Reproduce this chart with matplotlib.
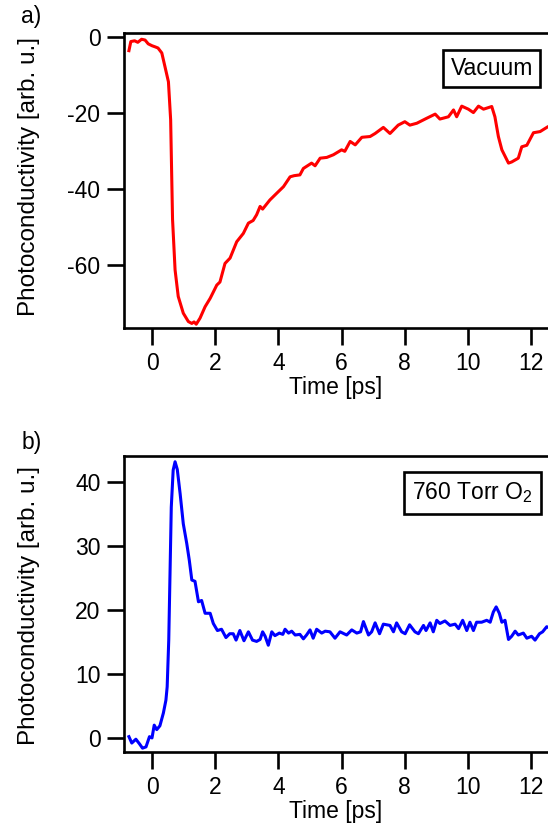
import matplotlib
matplotlib.use("Agg")
import matplotlib.pyplot as plt

plt.rcParams['font.family'] = ['Liberation Sans', 'DejaVu Sans']
plt.rcParams['mathtext.fontset'] = 'custom'
plt.rcParams['mathtext.rm'] = 'Liberation Sans'
plt.rcParams['mathtext.it'] = 'Liberation Sans:italic'
plt.rcParams['axes.unicode_minus'] = False

# ---- data: vacuum (panel a) ----
t_vac = [-0.73, -0.67, -0.55, -0.45, -0.33, -0.22, -0.12, 0.0, 0.10, 0.19, 0.31, 0.41,
         0.52, 0.59, 0.62, 0.65, 0.73, 0.83, 0.99, 1.15, 1.26, 1.33, 1.40, 1.52, 1.68,
         1.84, 2.05, 2.15, 2.31, 2.47, 2.68, 2.89, 3.05, 3.20, 3.31, 3.42, 3.50, 3.73,
         3.95, 4.16, 4.37, 4.50, 4.68, 4.79, 5.05, 5.16, 5.32, 5.53, 5.74, 6.00, 6.10,
         6.27, 6.43, 6.64, 6.90, 7.06, 7.32, 7.53, 7.79, 8.00, 8.16, 8.38, 8.69, 8.96,
         9.11, 9.38, 9.54, 9.64, 9.80, 10.01, 10.17, 10.33, 10.49, 10.75, 10.85, 10.96,
         11.07, 11.28, 11.38, 11.59, 11.70, 11.86, 12.07, 12.28, 12.53, 12.70]
y_vac = [-3.6, -1.2, -1.0, -1.4, -0.6, -0.8, -1.8, -2.3, -2.6, -2.9, -4.2, -7.8,
         -11.8, -21.8, -35.0, -48.0, -61.3, -68.3, -72.7, -74.9, -75.4, -75.0, -75.6, -74.0, -71.0,
         -68.8, -65.3, -64.5, -59.6, -58.2, -53.9, -51.7, -49.0, -48.3, -46.8, -44.6, -45.3, -42.9,
         -41.1, -39.4, -36.8, -36.5, -36.3, -34.6, -33.2, -33.9, -31.9, -31.7, -31.0, -29.7, -30.1,
         -27.5, -28.4, -26.4, -26.2, -25.4, -23.8, -25.4, -23.2, -22.3, -23.2, -22.7, -21.4, -20.3,
         -21.6, -21.0, -19.2, -21.0, -18.2, -19.0, -19.9, -18.2, -19.0, -18.3, -21.0, -26.2,
         -29.7, -33.2, -32.9, -31.9, -28.9, -28.5, -25.2, -24.9, -23.6, -23.4]

# ---- data: 760 Torr O2 (panel b) ----
t_o2 = [-0.73, -0.64, -0.51, -0.40, -0.30, -0.19, -0.08, 0.0, 0.07, 0.15, 0.25, 0.36,
        0.44, 0.48, 0.53, 0.57, 0.61, 0.67, 0.73, 0.80, 0.89, 0.99, 1.10, 1.18, 1.26,
        1.36, 1.47, 1.57, 1.68, 1.84, 1.94, 2.07, 2.20, 2.34, 2.46, 2.57, 2.66, 2.78,
        2.91, 3.05, 3.18, 3.31, 3.42, 3.50, 3.58, 3.68, 3.79, 3.89, 4.03, 4.14, 4.21,
        4.32, 4.42, 4.53, 4.68, 4.79, 4.89, 5.00, 5.10, 5.21, 5.37, 5.48, 5.63, 5.79,
        5.95, 6.16, 6.32, 6.48, 6.60, 6.69, 6.85, 6.95, 7.06, 7.20, 7.32, 7.53, 7.64,
        7.74, 7.90, 8.01, 8.15, 8.32, 8.43, 8.59, 8.67, 8.80, 8.90, 9.01, 9.11, 9.27,
        9.43, 9.59, 9.70, 9.83, 9.96, 10.06, 10.17, 10.27, 10.43, 10.59, 10.70, 10.80,
        10.89, 10.99, 11.07, 11.17, 11.28, 11.38, 11.49, 11.59, 11.75, 11.86, 12.01,
        12.12, 12.26, 12.36, 12.49, 12.65]
y_o2 = [0.2, -0.8, -0.2, -0.9, -1.6, -1.4, 0.2, 0.0, 2.0, 1.3, 1.9, 3.9,
        5.9, 8.0, 15.3, 25.7, 36.1, 41.9, 43.2, 42.0, 38.2, 33.5, 30.4, 27.8, 24.7,
        24.5, 21.3, 21.5, 19.5, 19.5, 17.9, 16.8, 17.0, 15.7, 16.3, 16.3, 15.3, 16.8,
        15.2, 16.6, 15.3, 15.1, 15.4, 16.6, 15.9, 14.5, 16.6, 16.0, 16.4, 16.2, 17.0,
        16.4, 16.7, 16.1, 16.2, 15.5, 16.1, 16.9, 15.6, 17.0, 16.4, 16.7, 16.6, 15.6,
        16.6, 16.1, 16.9, 16.4, 16.6, 18.2, 16.1, 16.6, 18.0, 16.3, 17.8, 17.6, 16.6,
        18.0, 16.6, 16.3, 17.7, 16.6, 16.3, 17.6, 16.8, 18.0, 16.6, 18.4, 17.9, 18.3,
        17.6, 17.8, 17.1, 18.4, 16.8, 18.1, 16.8, 18.1, 18.1, 18.4, 18.1, 19.7,
        20.5, 19.5, 18.1, 18.4, 15.4, 15.9, 16.7, 16.1, 16.4, 15.6, 15.9,
        15.3, 16.3, 16.6, 17.4, 17.0]

x_ticks = [0, 2, 4, 6, 8, 10, 12]
y_ticks_a = [0, -20, -40, -60]
y_ticks_b = [0, 10, 20, 30, 40]

FS = 16.5
FS_YL = 17.5
fig = plt.figure(figsize=(5.48, 8.34), dpi=100)
W, H = 548, 834

def make_ax(top_px, bot_px):
    left = 124 / W
    b = 1 - bot_px / H
    h = (bot_px - top_px) / H
    return fig.add_axes([left, b, 1 - left, h])

ax1 = make_ax(33, 328)
ax2 = make_ax(456, 752)

for ax in (ax1, ax2):
    ax.spines['right'].set_visible(False)
    for s in ('left', 'top', 'bottom'):
        ax.spines[s].set_linewidth(1.9)
    ax.tick_params(direction='out', length=12, width=1.9, labelsize=FS, pad=5,
                   top=False, right=False)
    ax.set_xlim(-0.886, 12.53)
    ax.set_xticks(x_ticks)
    ax.set_xlabel('Time [ps]', fontsize=FS, labelpad=1)
    ax.set_ylabel('Photoconductivity [arb. u.]', fontsize=FS_YL)

ax1.yaxis.set_label_coords(-0.198, 0.515)
ax2.yaxis.set_label_coords(-0.198, 0.495)

ax1.plot(t_vac, y_vac, color='#ff0000', lw=2.2)
ax1.set_ylim(-76.6, 1.05)
ax1.set_yticks(y_ticks_a)
ax1.text(0.965, 0.880, 'Vacuum', transform=ax1.transAxes, ha='right', va='center',
         fontsize=FS, bbox=dict(boxstyle='square,pad=0.32', fc='white', ec='black', lw=1.9))

ax2.plot(t_o2, y_o2, color='#0000ff', lw=2.2)
ax2.set_ylim(-2.2, 44.1)
ax2.set_yticks(y_ticks_b)
ax2.text(0.965, 0.875, r'760 Torr O$_2$', transform=ax2.transAxes, ha='right', va='center',
         fontsize=FS, bbox=dict(boxstyle='square,pad=0.36', fc='white', ec='black', lw=1.9))

fig.text(21 / W, 1 - 16 / H, 'a)', fontsize=FS, ha='left', va='center')
fig.text(22 / W, 1 - 443 / H, 'b)', fontsize=FS, ha='left', va='center')

fig.savefig('out.png', dpi=100)
